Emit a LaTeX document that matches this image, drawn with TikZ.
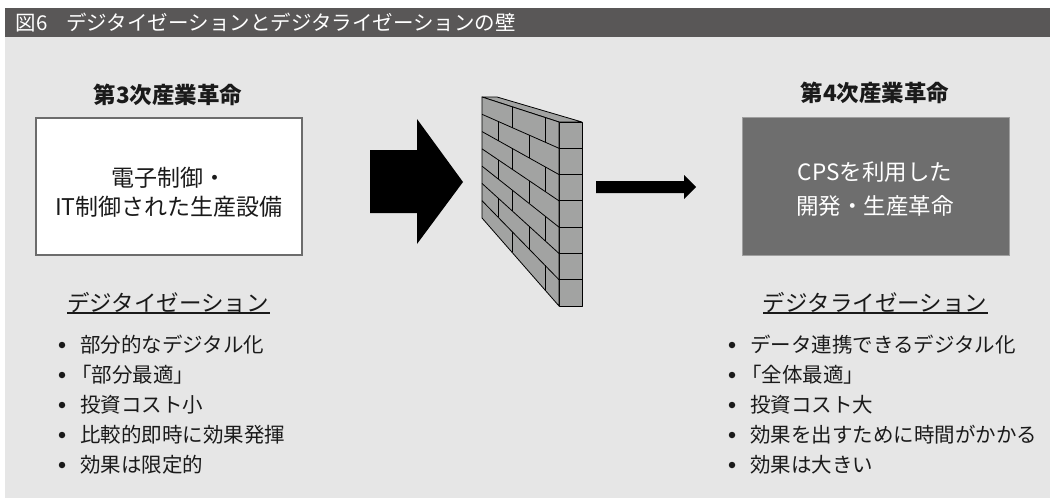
\documentclass[tikz,border=0pt]{standalone}
\usepackage{fontspec}
\setmainfont{Noto Sans CJK JP}
\usetikzlibrary{calc}
\definecolor{bargray}{HTML}{595757}
\definecolor{panelgray}{HTML}{E6E6E6}
\definecolor{boxgray}{HTML}{6E6E6E}
\definecolor{brickgray}{HTML}{A2A3A2}
\definecolor{ink}{HTML}{1A1A1A}
\begin{document}
\begin{tikzpicture}[x=1pt,y=-1pt,
  every node/.style={inner sep=0pt,outer sep=0pt,text=ink},
  headtitle/.style={font=\bfseries\fontsize{22.5}{26}\selectfont},
  boxtext/.style={font=\fontsize{23}{29}\selectfont,align=center},
  listhead/.style={font=\fontsize{22.5}{26}\selectfont},
  listitem/.style={anchor=west,font=\fontsize{20.5}{24}\selectfont},
  bulletdot/.style={circle,fill=ink,minimum size=6.5pt},
  brick/.style={draw=black,line width=0.8pt,fill=brickgray,line join=round},
  joint/.style={draw=black,line width=0.8pt}]
\useasboundingbox (0,0) rectangle (1050,498);
\fill[white] (0,0) rectangle (1050,498);
% title bar and panel
\fill[bargray] (5,8) rectangle (1050,37);
\fill[panelgray] (5,37) rectangle (1050,498);
\node[anchor=west,text=white,font=\fontsize{20.5}{24}\selectfont] (title) at (16,22.5)
  {図6\hspace{0.9em}デジタイゼーションとデジタライゼーションの壁};

% left side: third industrial revolution
\node[headtitle] (lhead) at (168,95) {第3次産業革命};
\node[draw=gray!85!black,line width=1.3pt,fill=white,minimum width=266pt,minimum height=137pt] (lbox) at (169,186.5) {};
\node[boxtext] (ltext) at (169,192.5) {電子制御・\\IT制御された生産設備};

% right side: fourth industrial revolution
\node[headtitle] (rhead) at (875,93) {第4次産業革命};
\node[draw=gray!75,line width=0.6pt,fill=boxgray,minimum width=267pt,minimum height=138pt] (rbox) at (875.5,186) {};
\node[boxtext,text=white,font=\fontsize{22.5}{34}\selectfont] (rtext) at (875,189) {CPSを利用した\\開発・生産革命};

% big arrow into the wall
\fill[black] (370,150) -- (417,150) -- (417,119) -- (463,182) -- (417,244) -- (417,213) -- (370,213) -- cycle;
% small arrow beyond the wall
\fill[black] (596,181) -- (684,181) -- (684,175) -- (696,187) -- (684,199) -- (684,193) -- (596,193) -- cycle;

% brick wall
\foreach \i in {0,...,7} {
  \coordinate (L\i) at (482,{97+\i*121/7});
  \coordinate (R\i) at (559,{122+\i*184/7});
  \coordinate (S\i) at (582,{122+\i*184/7});
}
% top face, side face, front face
\path[brick] (482,97) -- (497,97) -- (582,122) -- (559,122) -- cycle;
\path[brick] (R0) -- (S0) -- (S7) -- (R7) -- cycle;
\path[brick] (L0) -- (R0) -- (R7) -- (L7) -- cycle;
\foreach \i in {1,...,6} {
  \draw[joint] (L\i) -- (R\i);
  \draw[joint] (R\i) -- (S\i);
}
\foreach \i/\j in {0/1,2/3,4/5,6/7} {
  \draw[joint] ($(L\i)!0.39!(R\i)$) -- ($(L\j)!0.39!(R\j)$);
  \draw[joint] ($(L\i)!0.82!(R\i)$) -- ($(L\j)!0.82!(R\j)$);
}
\foreach \i/\j in {1/2,3/4,5/6} {
  \draw[joint] ($(L\i)!0.21!(R\i)$) -- ($(L\j)!0.21!(R\j)$);
  \draw[joint] ($(L\i)!0.61!(R\i)$) -- ($(L\j)!0.61!(R\j)$);
}

% left list: digitization
\node[listhead] (lh) at (168,303) {デジタイゼーション};
\draw[line width=1.3pt,ink] (67,313) -- (270,313);
\foreach \t [count=\k from 0] in {部分的なデジタル化,\kern-0.42em「部分最適」,投資コスト小,比較的即時に効果発揮,効果は限定的} {
  \node[bulletdot] (lb\k) at (62,{345+30*\k}) {};
  \node[listitem] (li\k) at (80,{345+30*\k}) {\t};
}

% right list: digitalization
\node[listhead] (rh) at (875,303) {デジタライゼーション};
\draw[line width=1.3pt,ink] (763,313) -- (988,313);
\foreach \t [count=\k from 0] in {データ連携できるデジタル化,\kern-0.42em「全体最適」,投資コスト大,効果を出すために時間がかかる,効果は大きい} {
  \node[bulletdot] (rb\k) at (732,{345+30*\k}) {};
  \node[listitem] (ri\k) at (750,{345+30*\k}) {\t};
}
\end{tikzpicture}
\end{document}
